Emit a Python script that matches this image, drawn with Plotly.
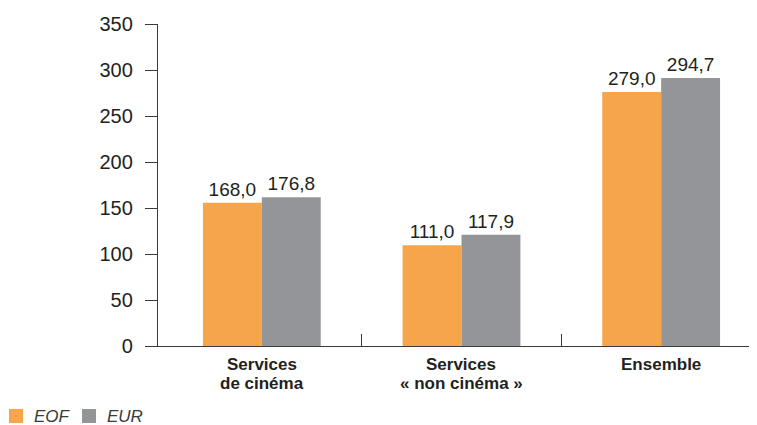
import plotly.graph_objects as go

FONT = "Liberation Sans, Arial, sans-serif"
FONT_NARROW = "Liberation Sans Narrow, Arial Narrow, Liberation Sans, sans-serif"
INK = "#231f20"
AXIS = "#3a3a3a"

ORANGE = "#f7a54a"
GREY = "#939598"

# Data.
categories = ["Services\nde cinéma", "Services\n« non cinéma »", "Ensemble"]
series_names = ["EOF", "EUR"]
eof_heights = [155.6, 109.5, 276.0]
eur_heights = [161.8, 120.8, 291.2]
eof_labels = ["168,0", "111,0", "279,0"]
eur_labels = ["176,8", "117,9", "294,7"]
y_ticks = [0, 50, 100, 150, 200, 250, 300, 350]

# plot area in page pixels (the page body adds an 8px margin)
PAGE_OFF = 8
PLOT_L, PLOT_R, PLOT_T, PLOT_B = 158, 757, 24, 346
PW, PH = PLOT_R - PLOT_L, PLOT_B - PLOT_T


def px_x(sx):
    return (sx - PLOT_L) / PW


def px_y(sy):
    return (PLOT_B - sy) / PH


x_idx = list(range(len(categories)))

fig = go.Figure()
for name, heights, labels, color in [
    (series_names[0], eof_heights, eof_labels, ORANGE),
    (series_names[1], eur_heights, eur_labels, GREY),
]:
    fig.add_trace(
        go.Bar(
            x=x_idx,
            y=heights,
            name=name,
            marker=dict(color=color, line=dict(width=0)),
            text=labels,
            textposition="outside",
            textfont=dict(family=FONT, size=19, color=INK),
            constraintext="none",
            cliponaxis=False,
            hoverinfo="skip",
            showlegend=False,
        )
    )

# Category labels, one annotation per line so the line spacing stays tight.
for i, cat in enumerate(categories):
    for j, line in enumerate(cat.split("\n")):
        fig.add_annotation(
            x=i,
            y=0,
            xref="x",
            yref="y",
            text=f"<b>{line}</b>",
            showarrow=False,
            yanchor="top",
            yshift=-7 - 19 * j,
            font=dict(family=FONT_NARROW, size=17, color=INK),
        )

# Legend drawn by hand: it sits further left than plotly's own legend can go.
for name, color, sq_left, txt_left in [
    (series_names[0], ORANGE, 9, 32),
    (series_names[1], GREY, 82, 105),
]:
    fig.add_shape(
        type="rect",
        xref="paper",
        yref="paper",
        x0=px_x(sq_left),
        x1=px_x(sq_left + 14),
        y0=px_y(423),
        y1=px_y(409),
        fillcolor=color,
        line=dict(width=0),
    )
    fig.add_annotation(
        x=px_x(txt_left),
        y=px_y(416),
        xref="paper",
        yref="paper",
        xanchor="left",
        yanchor="middle",
        text=f"<i>{name}</i>",
        showarrow=False,
        font=dict(family=FONT, size=17, color="#3a3a3a"),
    )

fig.update_layout(
    width=757 - PAGE_OFF,
    height=425 - PAGE_OFF,
    margin=dict(
        l=PLOT_L - PAGE_OFF,
        r=0,
        t=PLOT_T - PAGE_OFF,
        b=425 - PLOT_B,
        autoexpand=False,
    ),
    plot_bgcolor="white",
    paper_bgcolor="white",
    barmode="group",
    bargap=0.41,
    bargroupgap=0,
    font=dict(family=FONT, size=19, color=INK),
    showlegend=False,
)

fig.update_xaxes(
    range=[-0.52, 2.48],
    tickmode="array",
    tickvals=[0.5, 1.5],
    showticklabels=False,
    ticks="inside",
    ticklen=12,
    tickwidth=1.3,
    tickcolor=AXIS,
    showline=True,
    linecolor=AXIS,
    linewidth=1.3,
    showgrid=False,
    zeroline=False,
)
fig.update_yaxes(
    range=[0, 350],
    tickvals=y_ticks,
    ticks="outside",
    ticklen=12,
    tickwidth=1.3,
    tickcolor=AXIS,
    tickfont=dict(family=FONT, size=20, color=INK),
    ticklabelstandoff=8,
    showline=True,
    linecolor=AXIS,
    linewidth=1.3,
    showgrid=False,
    zeroline=False,
)

fig.write_html("out.html")
